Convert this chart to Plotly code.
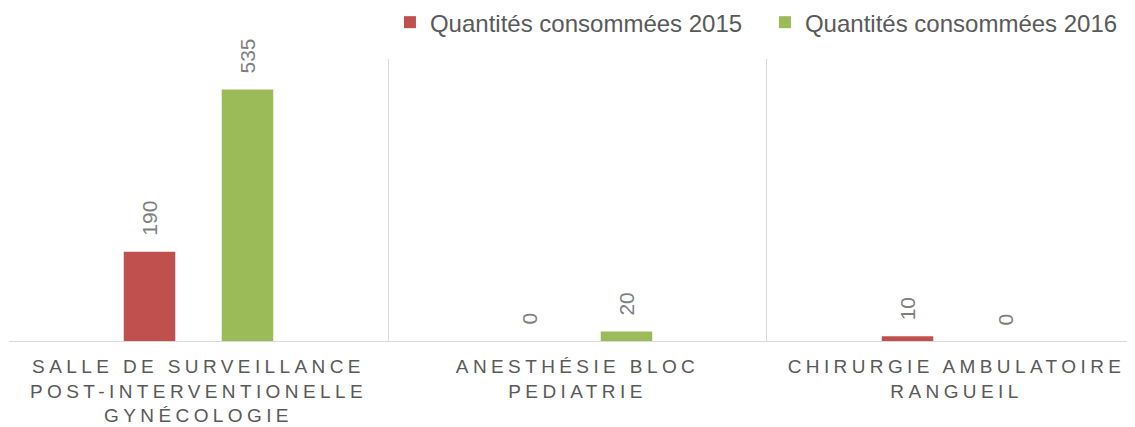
import plotly.graph_objects as go

CATEGORIES = [
    "SALLE DE SURVEILLANCE POST-INTERVENTIONELLE GYNÉCOLOGIE",
    "ANESTHÉSIE BLOC PEDIATRIE",
    "CHIRURGIE AMBULATOIRE RANGUEIL",
]
TICK_LINES = [
    ["SALLE DE SURVEILLANCE", "POST-INTERVENTIONELLE", "GYNÉCOLOGIE"],
    ["ANESTHÉSIE BLOC", "PEDIATRIE"],
    ["CHIRURGIE AMBULATOIRE", "RANGUEIL"],
]
SERIES_NAMES = ["Quantités consommées 2015", "Quantités consommées 2016"]
VALUES_2015 = [190, 0, 10]
VALUES_2016 = [535, 20, 0]

COLORS = ["#C0504D", "#9BBB59"]
FONT = "Liberation Sans, Arial, sans-serif"
BARGAP = 0.483
BARGROUPGAP = 0.474

fig = go.Figure()
for name, vals, col in zip(SERIES_NAMES, [VALUES_2015, VALUES_2016], COLORS):
    fig.add_trace(go.Bar(x=CATEGORIES, y=vals, name=name, marker_color=col,
                         marker_line_width=0, hoverinfo="skip"))

# data labels as rotated annotations
offset = (1 - BARGAP) / 4
for s, vals in enumerate([VALUES_2015, VALUES_2016]):
    for i, v in enumerate(vals):
        fig.add_annotation(x=i + (-offset if s == 0 else offset), y=v, xref="x", yref="y",
                           text=str(v), showarrow=False, textangle=-90,
                           xanchor="center", yanchor="bottom", yshift=14,
                           font=dict(family=FONT, size=21, color="#7F7F7F"))

ticktext = ["<br>".join(f'<span style="letter-spacing:4.4px">{l}</span>' for l in lines)
            for lines in TICK_LINES]

# page body adds an 8px margin; figure sized to fit the 1135x427 window
fig.update_layout(
    width=1127, height=419,
    margin=dict(l=1, r=0, t=51, b=86, autoexpand=False),
    paper_bgcolor="white", plot_bgcolor="white",
    barmode="group", bargap=BARGAP, bargroupgap=BARGROUPGAP,
    font=dict(family=FONT, color="#595959"),
    showlegend=True,
    legend=dict(orientation="h", xref="paper", yref="paper",
                x=1.0044, xanchor="right", y=1.209, yanchor="top",
                font=dict(family=FONT, size=24, color="#595959"),
                entrywidth=330, traceorder="normal"),
    xaxis=dict(type="category", range=[-0.5, 2.471], tickson="boundaries",
               showgrid=True, gridcolor="#D9D9D9", gridwidth=1,
               showline=True, linecolor="#D9D9D9", linewidth=1,
               ticks="", tickvals=CATEGORIES, ticktext=ticktext,
               tickfont=dict(family=FONT, size=19, color="#595959"),
               ticklabelstandoff=8, automargin=False,
               tickangle=0, fixedrange=True),
    yaxis=dict(range=[0, 600], visible=False, showgrid=False, zeroline=False,
               automargin=False, fixedrange=True),
)

fig.write_html("out.html")
